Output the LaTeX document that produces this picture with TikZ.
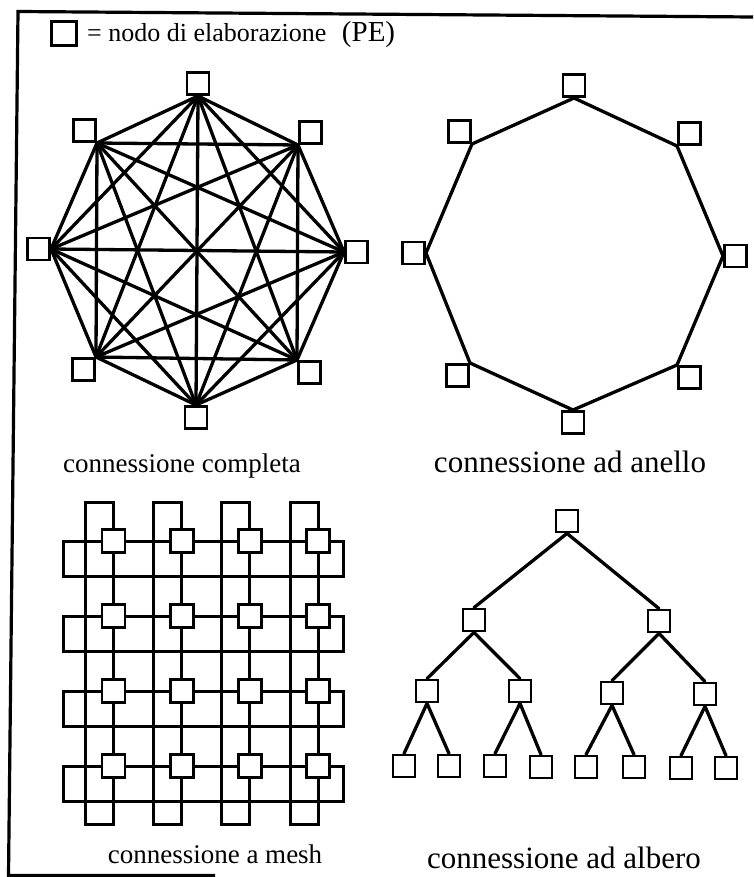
\documentclass[tikz,border=0pt]{standalone}
\usepackage{fontspec}
\setmainfont{Liberation Serif}
\usetikzlibrary{backgrounds}
\begin{document}
\begin{tikzpicture}[x=1pt,y=-1pt,
  pe/.style={draw, fill=white, line width=2.8pt, minimum size=22pt, inner sep=0pt},
  link/.style={line width=3.3pt, line cap=round},
  wire/.style={line width=3pt, line join=miter},
  caption/.style={font=\fontsize{27}{32}\selectfont, anchor=base, inner sep=0pt},
  bigcaption/.style={font=\fontsize{31}{36}\selectfont, anchor=base, inner sep=0pt}]
\useasboundingbox (0,0) rectangle (753,877);

% frame
\draw[line width=3.2pt] (215,875.5) -- (8.5,875.5) -- (18,11.5) -- (753,17);

% legend
\node[pe, minimum size=24.5pt] (key) at (64,33.5) {};
\node[anchor=base west, inner sep=0pt, font=\fontsize{26}{30}\selectfont] (keytext) at (87,42)
  {= nodo di elaborazione\hspace{0.6em}{\fontsize{29}{30}\selectfont(PE)}};

% ---- complete connection ----
\node[pe, anchor=south]      (cT)  at (198,96)  {};
\node[pe, anchor=south west] (cTR) at (298,145) {};
\node[pe, anchor=west]       (cR)  at (344,252) {};
\node[pe, anchor=north west] (cBR) at (297,360) {};
\node[pe, anchor=north]      (cB)  at (196,405) {};
\node[pe, anchor=north east] (cBL) at (96,357)  {};
\node[pe, anchor=east]       (cL)  at (51,249)  {};
\node[pe, anchor=south east] (cTL) at (97,143)  {};
\begin{pgfonlayer}{background}
\foreach \a [count=\i] in {cT.south, cTR.south west, cR.west, cBR.north west, cB.north, cBL.north east, cL.east, cTL.south east}{
  \foreach \b [count=\j] in {cT.south, cTR.south west, cR.west, cBR.north west, cB.north, cBL.north east, cL.east, cTL.south east}{
    \ifnum\j>\i \draw[link] (\a) -- (\b); \fi
  }
}
\end{pgfonlayer}
\node[caption] (capC) at (182,472) {connessione completa};

% ---- ring connection ----
\node[pe, anchor=south]      (rT)  at (574,98)  {};
\node[pe, anchor=south west] (rTR) at (677,146) {};
\node[pe, anchor=west]       (rR)  at (723,256) {};
\node[pe, anchor=north west] (rBR) at (677,365) {};
\node[pe, anchor=north]      (rB)  at (573,410) {};
\node[pe, anchor=north east] (rBL) at (470,363) {};
\node[pe, anchor=east]       (rL)  at (426,253) {};
\node[pe, anchor=south east] (rTL) at (472,144) {};
\begin{pgfonlayer}{background}
\draw[link, line join=round] (rT.south) -- (rTR.south west) -- (rR.west) -- (rBR.north west)
  -- (rB.north) -- (rBL.north east) -- (rL.east) -- (rTL.south east) -- cycle;
\end{pgfonlayer}
\node[bigcaption] (capR) at (570,472) {connessione ad anello};

% ---- mesh connection (torus) ----
\foreach \r in {1,...,4}{
  \foreach \c in {1,...,4}{
    \node[pe, minimum size=23pt] (m\r\c) at ({113.5+68.2*(\c-1)}, {541+75*(\r-1)}) {};
  }
}
\coordinate (mtop) at (0,502);
\coordinate (mbot) at (0,824);
\coordinate (mleft) at (63,0);
\coordinate (mright) at (343,0);
\begin{pgfonlayer}{background}
\foreach \c in {1,...,4}{
  \draw[wire] (m1\c) -- (m1\c |- mtop) -- ++(-28,0) |- (m4\c |- mbot) -- (m4\c);
  \draw[wire] (m1\c) -- (m2\c) (m2\c) -- (m3\c) (m3\c) -- (m4\c);
}
\foreach \r in {1,...,4}{
  \draw[wire] (m\r1) -- (m\r1 -| mleft) -- ++(0,35) -| (m\r4 -| mright) -- (m\r4);
  \draw[wire] (m\r1) -- (m\r2) (m\r2) -- (m\r3) (m\r3) -- (m\r4);
}
\end{pgfonlayer}
\node[caption] (capM) at (215,863) {connessione a mesh};

% ---- tree connection ----
\node[pe] (t)   at (567,521) {};
\node[pe] (t1)  at (474,620) {};
\node[pe] (t2)  at (659,621) {};
\node[pe] (t11) at (427,691) {};
\node[pe] (t12) at (520,691) {};
\node[pe] (t21) at (612,693) {};
\node[pe] (t22) at (705,694) {};
\node[pe] (t111) at (404,766) {};
\node[pe] (t112) at (449,766) {};
\node[pe] (t121) at (495,766) {};
\node[pe] (t122) at (541,767) {};
\node[pe] (t211) at (586,767) {};
\node[pe] (t212) at (634,767) {};
\node[pe] (t221) at (681,768) {};
\node[pe] (t222) at (726,768) {};
\begin{pgfonlayer}{background}
\foreach \p/\q in {t/t1, t/t2, t1/t11, t1/t12, t2/t21, t2/t22,
  t11/t111, t11/t112, t12/t121, t12/t122, t21/t211, t21/t212, t22/t221, t22/t222}{
  \draw[link] (\p.south) -- (\q.north);
}
\end{pgfonlayer}
\node[bigcaption] (capT) at (564,868) {connessione ad albero};
\end{tikzpicture}
\end{document}
